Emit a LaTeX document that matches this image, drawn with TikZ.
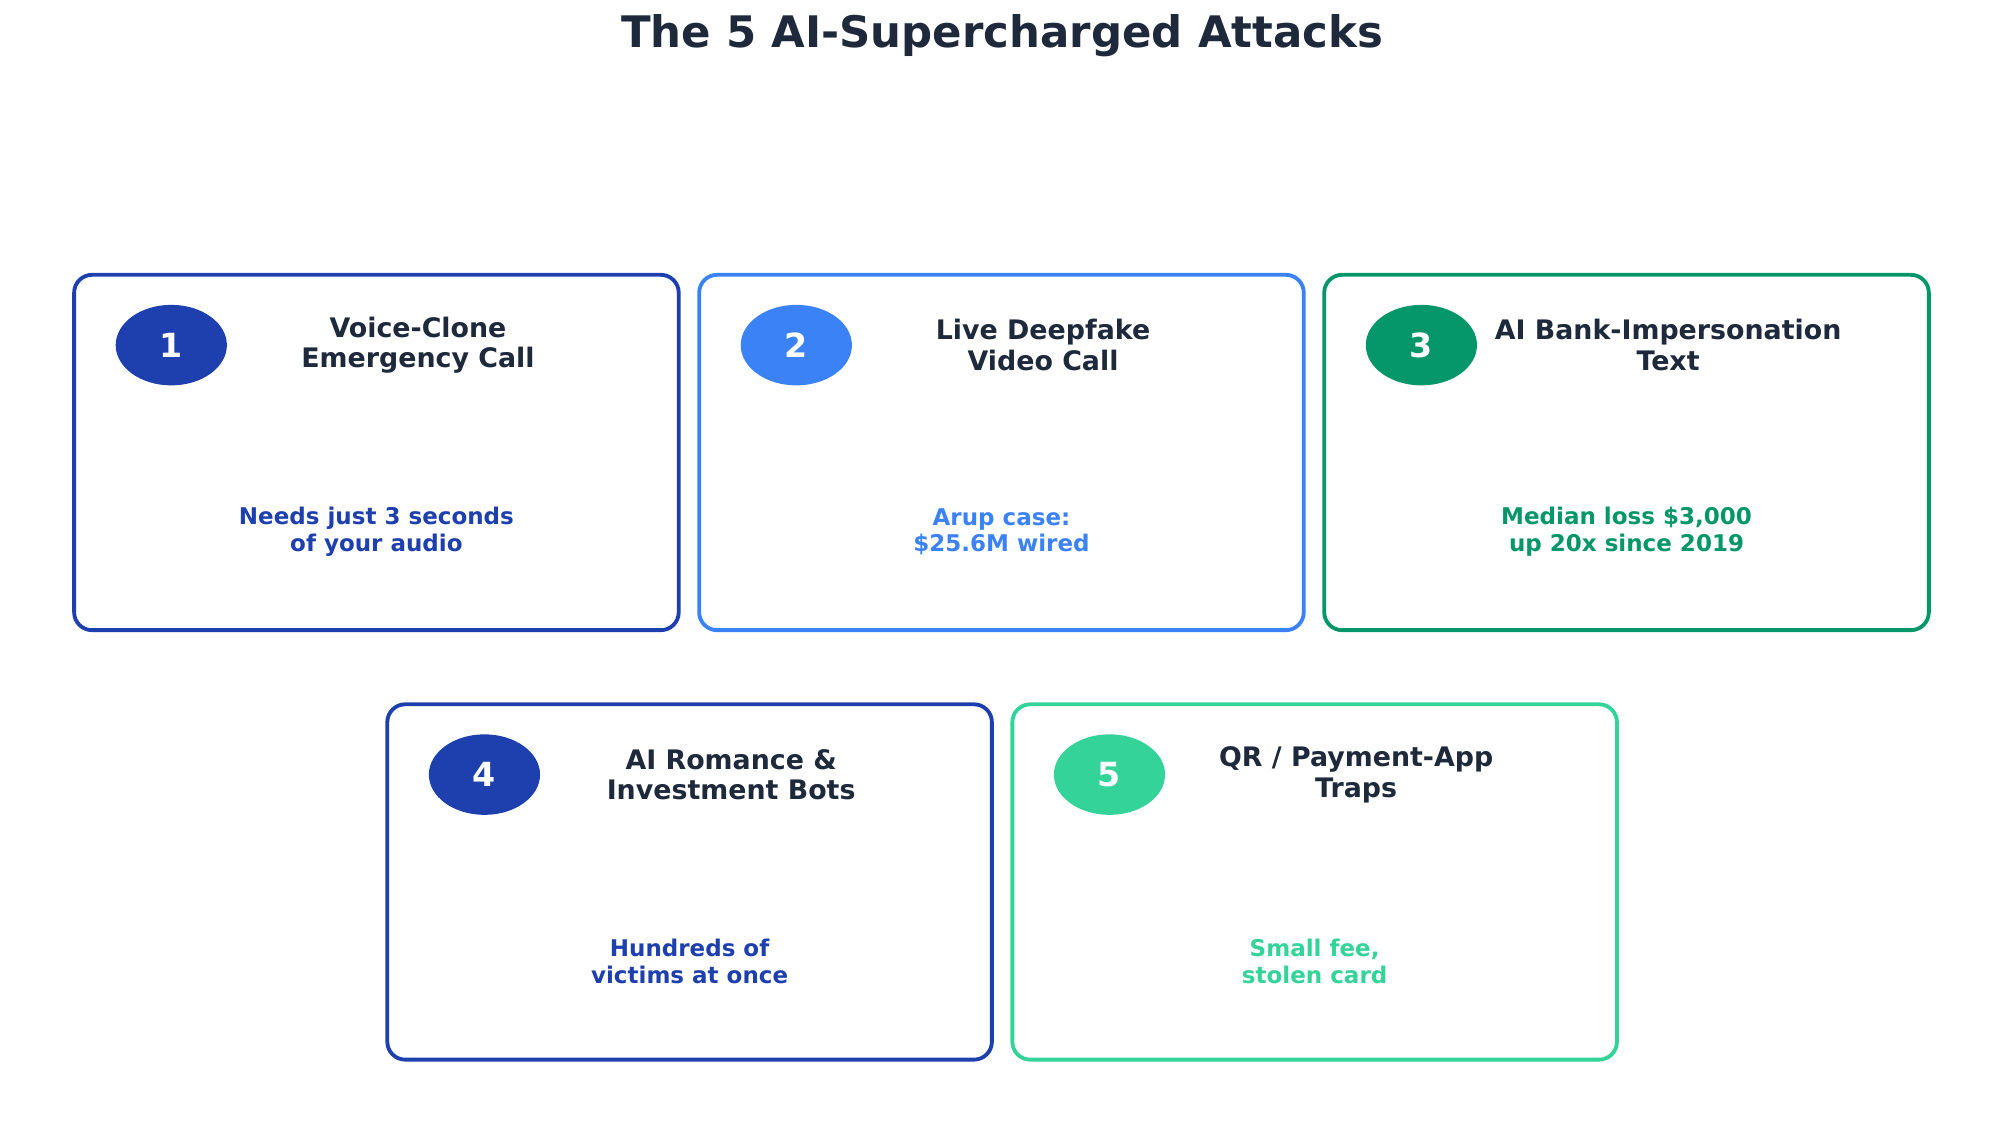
\documentclass[tikz,border=0pt]{standalone}
\usepackage{fontspec}
\setmainfont{DejaVu Sans}
\usetikzlibrary{shapes.geometric}
\definecolor{c1}{HTML}{1E40AF}
\definecolor{c2}{HTML}{3B82F6}
\definecolor{c3}{HTML}{059669}
\definecolor{c5}{HTML}{34D399}
\definecolor{ink}{HTML}{1E293B}
\begin{document}
\begin{tikzpicture}[x=1pt,y=-1pt,
  card/.style={draw=#1,line width=3pt,rounded corners=14pt,minimum width=473pt,minimum height=278pt,fill=white},
  badge/.style={ellipse,fill=#1,minimum width=87pt,minimum height=63pt,text=white,font=\bfseries\fontsize{26}{28}\selectfont,inner sep=0pt},
  ttl/.style={text=ink,font=\bfseries\fontsize{21}{24}\selectfont,align=center},
  sub/.style={text=#1,font=\bfseries\fontsize{18}{21}\selectfont,align=center}]
\useasboundingbox (0,0) rectangle (1560,881);
\node[text=ink,font=\bfseries\fontsize{34}{38}\selectfont] (title) at (784,28) {The 5 AI-Supercharged Attacks};
\newcommand\mycard[7]{%
  \node[card=#4] (card#1) at (#2+236.5,#3+139) {};
  \node[badge=#4] (badge#1) at (#2+76,#3+55) {#1};
  \node[ttl] (ttl#1) at (#2+269,#3+55) {#5};
  \node[sub=#4] (sub#1) at (#2+236.5,#3+201) {#6};}
\mycard{1}{58}{215}{c1}{Voice-Clone\\Emergency Call}{Needs just 3 seconds\\of your audio}{}
\mycard{2}{547}{215}{c2}{Live Deepfake\\Video Call}{Arup case:\\\$25.6M wired}{}
\mycard{3}{1036}{215}{c3}{AI Bank-Impersonation\\Text}{Median loss \$3,000\\up 20x since 2019}{}
\mycard{4}{303}{551}{c1}{AI Romance \&\\Investment Bots}{Hundreds of\\victims at once}{}
\mycard{5}{792}{551}{c5}{QR / Payment-App\\Traps}{Small fee,\\stolen card}{}
\end{tikzpicture}
\end{document}
